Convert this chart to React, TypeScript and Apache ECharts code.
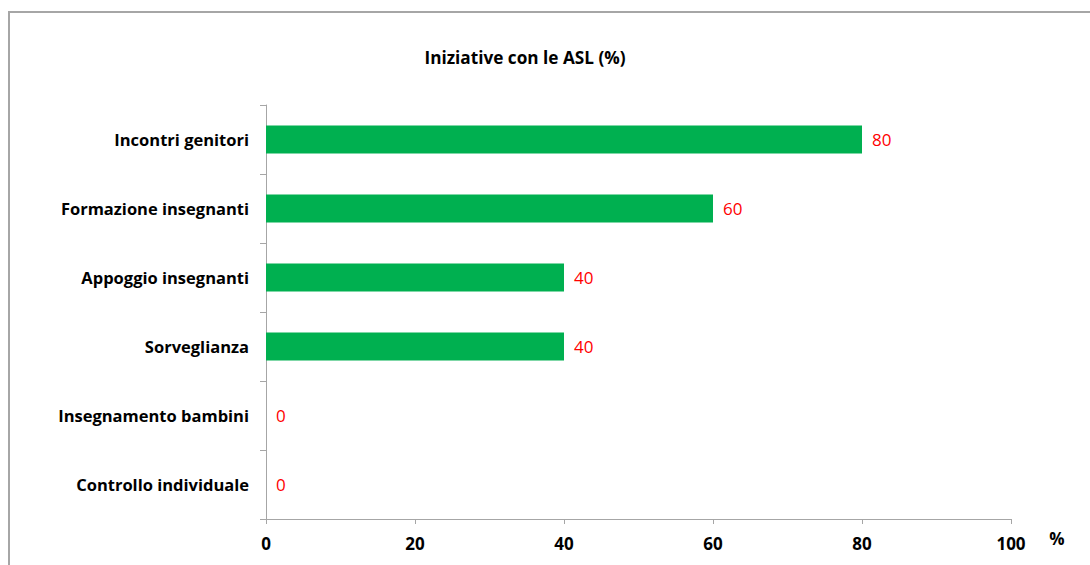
import React, { useEffect, useRef } from "react";
import * as echarts from "echarts";

const categories = [
  "Incontri genitori",
  "Formazione insegnanti",
  "Appoggio insegnanti",
  "Sorveglianza",
  "Insegnamento bambini",
  "Controllo individuale",
];
const values = [80, 60, 40, 40, 0, 0];
const xTicks = [0, 20, 40, 60, 80, 100];
const titleText = "Iniziative con le ASL (%)";
const unitText = "%";

const FONT = "'Open Sans', Lato, sans-serif";

export default function App() {
  const ref = useRef<HTMLDivElement>(null);
  useEffect(() => {
    if (!ref.current) return;
    const chart = echarts.init(ref.current, undefined, { renderer: "svg" });
    chart.setOption({
      animation: false,
      backgroundColor: "#ffffff",
      title: {
        text: titleText,
        left: 520,
        textAlign: "center",
        top: 44,
        textStyle: { fontFamily: FONT, fontSize: 17.2, fontWeight: "bold", color: "#000" },
      },
      grid: { left: 266, right: 79, top: 105, bottom: 46, containLabel: false },
      xAxis: {
        type: "value",
        min: xTicks[0],
        max: xTicks[xTicks.length - 1],
        interval: xTicks[1] - xTicks[0],
        axisLine: { show: true, lineStyle: { color: "#a6a6a6", width: 1 } },
        axisTick: { show: true, length: 5, lineStyle: { color: "#a6a6a6" } },
        splitLine: { show: false },
        axisLabel: {
          margin: 16,
          fontFamily: FONT,
          fontSize: 17,
          fontWeight: "bold",
          color: "#000",
        },
      },
      yAxis: {
        type: "category",
        data: categories,
        inverse: true,
        axisLine: { show: true, lineStyle: { color: "#a6a6a6", width: 1 } },
        axisTick: { show: true, length: 6, lineStyle: { color: "#a6a6a6" } },
        axisLabel: {
          margin: 17,
          fontFamily: FONT,
          fontSize: 16.5,
          fontWeight: "bold",
          color: "#000",
        },
      },
      series: [
        {
          type: "bar",
          data: values,
          barWidth: 28,
          itemStyle: { color: "#00b050" },
          label: {
            show: true,
            position: "right",
            distance: 10,
            fontFamily: FONT,
            fontSize: 17,
            color: "#ff0000",
          },
        },
      ],
      graphic: [
        {
          type: "rect",
          shape: { x: 9, y: 12, width: 1100, height: 600 },
          style: { fill: "none", stroke: "#a6a6a6", lineWidth: 2 },
          silent: true,
        },
        {
          type: "text",
          x: 1057,
          y: 538,
          style: {
            text: unitText,
            fontFamily: FONT,
            fontSize: 17,
            fontWeight: "bold",
            fill: "#000",
            textAlign: "center",
            textVerticalAlign: "middle",
          },
        },
      ],
    });
    return () => chart.dispose();
  }, []);
  return (
    <div
      ref={ref}
      style={{ position: "absolute", left: 0, top: 0, width: 1090, height: 565 }}
    />
  );
}
